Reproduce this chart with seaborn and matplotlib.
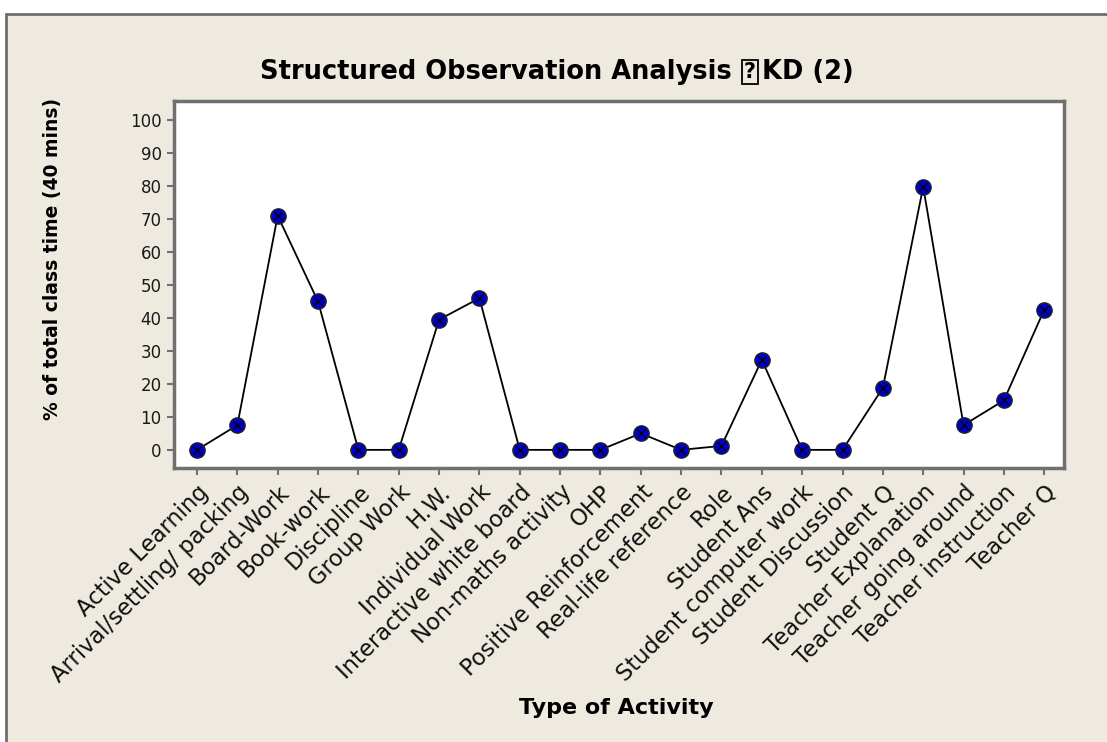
import matplotlib
matplotlib.use("Agg")
import matplotlib.pyplot as plt
import seaborn as sns
import pandas as pd
from matplotlib.patches import Rectangle

activities = ["Active Learning", "Arrival/settling/ packing", "Board-Work", "Book-work",
              "Discipline", "Group Work", "H.W.", "Individual Work",
              "Interactive white board", "Non-maths activity", "OHP",
              "Positive Reinforcement", "Real-life reference", "Role", "Student Ans",
              "Student computer work", "Student Discussion", "Student Q",
              "Teacher Explanation", "Teacher going around", "Teacher instruction", "Teacher Q"]
percent = [0, 7.5, 71, 45, 0, 0, 39.5, 46, 0, 0, 0, 5, 0, 1.2, 27.3, 0, 0, 18.8,
           79.8, 7.5, 15, 42.5]
y_ticks = [0, 10, 20, 30, 40, 50, 60, 70, 80, 90, 100]

title_parts = ["Structured Observation Analysis ", "?", "KD (2)"]
x_label = "Type of Activity"
y_label = "% of total class time (40 mins)"

df = pd.DataFrame({"Activity": activities, "Percent": percent})

sns.set_style("white")
plt.rcParams["font.family"] = ["DejaVu Sans"]
plt.rcParams["text.color"] = "black"
plt.rcParams["axes.labelcolor"] = "black"

bg = "#EEEAE0"
fig = plt.figure(figsize=(11.07, 7.42), dpi=100)
fig.patch.set_facecolor("white")
fig.patches.append(Rectangle((6 / 1107, -0.02), 1.05, 1.02 - 14 / 742, transform=fig.transFigure,
                             facecolor=bg, edgecolor="#6e6e6e", linewidth=2, zorder=-1))

ax = fig.add_axes([174 / 1107, 1 - 468 / 742, (1064 - 174) / 1107, (468 - 101) / 742])
ax.set_facecolor("white")

sns.lineplot(data=df, x="Activity", y="Percent", ax=ax, color="black", linewidth=1.3,
             marker="o", markersize=11, markerfacecolor="#0000CC",
             markeredgecolor="#222222", markeredgewidth=1.0, sort=False)
sns.scatterplot(data=df, x="Activity", y="Percent", ax=ax, marker="x", color="black",
                s=35, linewidth=1.0, zorder=5)

n = len(activities)
ax.set_xlim(-0.57, (n - 1) + 0.49)
ax.set_ylim(-5.5, 105.8)
ax.set_yticks(y_ticks)
ax.set_yticklabels([str(v) for v in y_ticks], fontsize=12, color="#1a1a1a")
ax.set_xticks(range(n))
ax.set_xticklabels(activities, rotation=45, ha="right", rotation_mode="anchor",
                   fontsize=16.3, color="#111111")
ax.tick_params(axis="both", direction="out", length=5, width=1.5, color="#707070",
               bottom=True, left=True, pad=4)

for s in ax.spines.values():
    s.set_color("#707070")
    s.set_linewidth(2.5)

ax.set_xlabel(x_label, fontsize=16, fontweight="bold")
ax.set_ylabel(y_label, fontsize=13.5, fontweight="bold")
ax.xaxis.set_label_coords((616 - 174) / (1064 - 174), -(698 - 468) / (468 - 101))
ax.yaxis.set_label_coords(-(174 - 62) / (1064 - 174), (468 - 259) / (468 - 101))

# title built in parts so the unknown glyph shows as a boxed "?"
renderer = fig.canvas.get_renderer()
tkw = dict(fontsize=18.5, fontweight="bold", va="center", ha="left", color="black")
texts = [fig.text(0, 1 - 72 / 742, p, **tkw) for p in title_parts]
widths = [t.get_window_extent(renderer).width for t in texts]
gap = 3
total = sum(widths) + 2 * gap
x = 557 - total / 2
for i, (t, w) in enumerate(zip(texts, widths)):
    t.set_x(x / 1107)
    x += w + (gap if i < 2 else 0)
texts[1].set_bbox(dict(boxstyle="square,pad=0.08", fc="none", ec="black", lw=1.3))
texts[1].set_fontsize(15)

fig.savefig("out.png", dpi=100, facecolor=fig.get_facecolor())
